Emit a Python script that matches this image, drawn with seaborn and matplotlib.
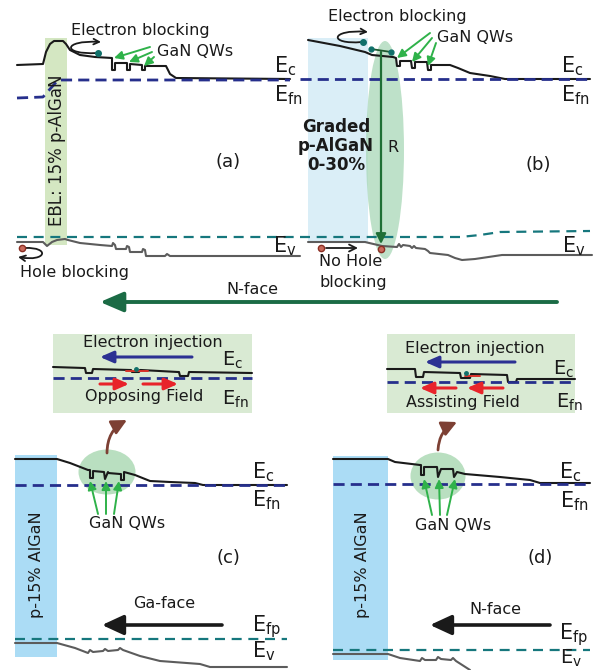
import numpy as np
import pandas as pd
import matplotlib
matplotlib.use("Agg")
import matplotlib.pyplot as plt
import seaborn as sns
from matplotlib.patches import Rectangle, Ellipse, FancyArrowPatch
from matplotlib.path import Path

sns.set_theme(style="white")
plt.rcParams['font.family'] = ['DejaVu Sans']
plt.rcParams['mathtext.fontset'] = 'dejavusans'

# ---------------- data (band-diagram traces, pixel space of the schematic) -------------
ECA_X = [17, 43, 46, 50, 54, 63, 66, 70, 80, 95, 112, 112, 115, 115, 127, 127, 130, 130, 142, 142, 145, 145, 166, 170, 176, 290]
ECA_Y = [65, 64, 52, 44, 41, 41, 44, 50, 55, 57, 58, 70, 70, 63, 63, 70, 70, 64, 65, 70, 70, 66, 66, 74, 78, 79]
EFNA_X = [17, 43, 58, 290]
EFNA_Y = [98, 97, 80, 80]
EFPA_X = [17, 300]
EFPA_Y = [237, 237]
EVA_X = [17, 43, 47, 52, 57, 65, 68, 80, 100, 112, 113, 115, 116, 126, 127, 129, 130, 142, 143, 145, 146, 165, 167, 170, 300]
EVA_Y = [242, 242, 246, 242, 240, 239, 240, 243, 245, 246, 243, 245, 249, 249, 246, 247, 252, 252, 249, 250, 256, 256, 254, 256, 256]

ECB_X = [308, 340, 365, 372, 393, 396, 397, 400, 400, 411, 412, 415, 415, 427, 428, 431, 431, 450, 458, 470, 490, 505, 590]
ECB_Y = [40, 46, 52, 55, 57, 58, 66, 66, 61, 61, 68, 68, 62, 62, 70, 70, 65, 65, 68, 73, 76, 79, 79]
EFNB_X = [300, 590]
EFNB_Y = [79, 79]
EFPB_X = [300, 460, 480, 500, 590]
EFPB_Y = [237, 237, 235, 232, 231]
EVB_X = [308, 365, 382, 397, 399, 401, 403, 410, 412, 414, 416, 425, 428, 430, 448, 455, 462, 475, 502, 592]
EVB_Y = [242, 242, 246, 247, 244, 247, 245, 246, 248, 246, 248, 249, 251, 253, 255, 258, 260, 259, 255, 255]

ECC_X = [15, 57, 70, 88, 90, 90, 93, 93, 104, 105, 105, 108, 108, 120, 121, 121, 124, 124, 135, 150, 170, 195, 203, 287]
ECC_Y = [459, 459, 463, 470, 470, 478, 478, 471, 472, 479, 479, 472, 473, 474, 474, 480, 480, 472, 475, 481, 482, 483, 485, 485]
EFNC_X = [15, 287]
EFNC_Y = [485, 485]
EFPC_X = [15, 287]
EFPC_Y = [639, 639]
EVC_X = [15, 57, 75, 88, 90, 93, 103, 105, 108, 118, 120, 123, 140, 160, 200, 210, 287]
EVC_Y = [643, 643, 648, 653, 650, 652, 651, 649, 651, 650, 648, 650, 656, 661, 664, 667, 667]

ECD_X = [333, 388, 395, 420, 421, 421, 424, 424, 437, 438, 438, 441, 441, 453, 454, 454, 457, 457, 465, 500, 530, 540, 590]
ECD_Y = [459, 459, 462, 465, 465, 475, 475, 467, 467, 477, 477, 469, 469, 469, 477, 477, 472, 472, 474, 477, 480, 483, 483]
EFND_X = [333, 590]
EFND_Y = [484, 484]
EFPD_X = [333, 590]
EFPD_Y = [650, 650]
EVD_X = [333, 388, 400, 420, 422, 425, 436, 438, 441, 451, 453, 456, 470]
EVD_Y = [654, 654, 658, 661, 658, 660, 660, 657, 659, 660, 658, 661, 670]

ECIC_X = [53, 84, 85, 86, 92, 93, 130, 131, 132, 139, 140, 141, 178, 179, 180, 188, 189, 252]
ECIC_Y = [367, 368, 368, 373, 373, 369, 370, 370, 372, 372, 370, 370, 372, 372, 376, 376, 372, 373]
EFNIC_X = [53, 252]
EFNIC_Y = [378, 378]
ECID_X = [387, 415, 416, 423, 424, 460, 461, 470, 471, 507, 508, 516, 517, 575]
ECID_Y = [369, 369, 377, 377, 372, 373, 378, 378, 374, 375, 382, 382, 379, 379]
EFNID_X = [387, 575]
EFNID_Y = [382, 382]

# ---------------- colours ----------------
C_EC = '#1a1a1a'
C_EFN = '#262f8c'
C_EFP = '#16777d'
C_EV = '#5c5c5c'
C_GREEN_ARR = '#2fb24a'
C_RED = '#e8232a'
C_BLUE = '#2c3193'
C_BROWN = '#7d4034'
C_DKGREEN = '#1b6b45'

fig = plt.figure(figsize=(5.95, 6.70), dpi=100)
ax = fig.add_axes([0, 0, 1, 1])


def band(x, y, color, lw, ls='-', z=3):
    df = pd.DataFrame({'x': x, 'y': y})
    sns.lineplot(data=df, x='x', y='y', sort=False, estimator=None, ax=ax,
                 color=color, lw=lw, linestyle=ls, legend=False, zorder=z)


DASH_N = (0, (4.0, 2.2))
DASH_P = (0, (4.5, 3.0))

# ---- background boxes ----
ax.add_patch(Rectangle((45, 38), 22, 207, color='#d4e7c2', zorder=1, lw=0))
ax.add_patch(Rectangle((308, 38), 60, 205, color='#daeef7', zorder=1, lw=0))
ax.add_patch(Ellipse((385, 150), 38, 218, color='#a9d8b7', alpha=0.75, zorder=1.5, lw=0))
ax.add_patch(Rectangle((15, 455), 42, 202, color='#abdcf5', zorder=1, lw=0))
ax.add_patch(Rectangle((333, 456), 55, 204, color='#abdcf5', zorder=1, lw=0))
ax.add_patch(Rectangle((53, 334), 199, 79, color='#d9ead3', zorder=1, lw=0))
ax.add_patch(Rectangle((387, 334), 188, 79, color='#d9ead3', zorder=1, lw=0))
ax.add_patch(Ellipse((107, 472), 57, 45, color='#b9dfc0', zorder=1.5, lw=0))
ax.add_patch(Ellipse((438, 476), 55, 47, color='#b9dfc0', zorder=1.5, lw=0))

# ---- bands ----
for ex, ey in [(ECA_X, ECA_Y), (ECB_X, ECB_Y), (ECC_X, ECC_Y), (ECD_X, ECD_Y),
               (ECIC_X, ECIC_Y), (ECID_X, ECID_Y)]:
    band(ex, ey, C_EC, 1.5)
for ex, ey in [(EFNA_X, EFNA_Y), (EFNB_X, EFNB_Y), (EFNC_X, EFNC_Y), (EFND_X, EFND_Y),
               (EFNIC_X, EFNIC_Y), (EFNID_X, EFNID_Y)]:
    band(ex, ey, C_EFN, 2.0, DASH_N)
for ex, ey in [(EFPA_X, EFPA_Y), (EFPB_X, EFPB_Y), (EFPC_X, EFPC_Y), (EFPD_X, EFPD_Y)]:
    band(ex, ey, C_EFP, 1.6, DASH_P)
for ex, ey in [(EVA_X, EVA_Y), (EVB_X, EVB_Y), (EVC_X, EVC_Y), (EVD_X, EVD_Y)]:
    band(ex, ey, C_EV, 1.5)


# ---- helpers ----
def arrow(p0, p1, color, lw=1.3, hl=5.0, hw=2.6, style='-|>', rad=0.0, z=5):
    st = f'{style},head_length={hl},head_width={hw}'
    a = FancyArrowPatch(p0, p1, arrowstyle=st, mutation_scale=1, color=color, lw=lw,
                        connectionstyle=f'arc3,rad={rad}', shrinkA=0, shrinkB=0, zorder=z)
    ax.add_patch(a)


def curve_arrow(pts, color, lw=1.3, ms=10):
    path = Path(pts, [Path.MOVETO, Path.CURVE4, Path.CURVE4, Path.CURVE4])
    a = FancyArrowPatch(path=path, arrowstyle='->', mutation_scale=ms, color=color, lw=lw,
                        zorder=5)
    ax.add_patch(a)


def elabel(x, y, sub, fs=15):
    ax.text(x, y, r'$\mathrm{E_{%s}}$' % sub, fontsize=fs, color='#1a1a1a', ha='left',
            va='baseline', zorder=6)


FS = 11.5
TXT = '#1a1a1a'

# ---- panel (a) ----
ax.text(140, 31, 'Electron blocking', fontsize=FS, color=TXT, ha='center', va='center')
ax.text(195, 52, 'GaN QWs', fontsize=FS, color=TXT, ha='center', va='center')
curve_arrow([(97, 53), (62, 55), (62, 40), (101, 42)], TXT)
ax.plot([98], [53], 'o', ms=4, color='#10706a', zorder=6)
for t, h in [((150, 47), (114, 58)), ((152, 52), (129, 62)), ((154, 57), (144, 66))]:
    arrow(t, h, C_GREEN_ARR, lw=1.4, hl=5, hw=2.5)
ax.text(57, 150, 'EBL: 15% p-AlGaN', fontsize=12, color=TXT, rotation=90,
        ha='center', va='center', zorder=4)
elabel(274, 72, 'c')
elabel(274, 101, 'fn')
elabel(273, 252, 'v')
ax.text(228, 162, '(a)', fontsize=13, color=TXT, ha='center', va='center')
curve_arrow([(25, 248), (50, 247), (47, 262), (18, 257)], TXT)
ax.plot([22], [248], 'o', ms=4.5, mfc='#c96a5c', mec='#8b2e22', mew=1, zorder=6)
ax.text(75, 272, 'Hole blocking', fontsize=FS, color=TXT, ha='center', va='center')

# big N-face arrow
arrow((557, 302), (100, 302), C_DKGREEN, lw=2.8, hl=14, hw=6)
ax.text(252, 289, 'N-face', fontsize=FS, color=TXT, ha='center', va='center')

# ---- panel (b) ----
ax.text(397, 17, 'Electron blocking', fontsize=FS, color=TXT, ha='center', va='center')
ax.text(475, 38, 'GaN QWs', fontsize=FS, color=TXT, ha='center', va='center')
curve_arrow([(362, 42), (328, 45), (330, 29), (368, 32)], TXT)
ax.plot([363], [42], 'o', ms=4, color='#10706a', zorder=6)
ax.plot([371, 391], [49, 52], color='#1f5a30', lw=1.3, zorder=6)
ax.plot([371, 391], [49, 52], 'o', ms=3.5, color='#10706a', zorder=6)
for t, h in [((430, 33), (397, 58)), ((432, 38), (412, 62)), ((436, 43), (428, 66))]:
    arrow(t, h, C_GREEN_ARR, lw=1.4, hl=5, hw=2.5)
arrow((381, 52), (381, 244), '#1f6f35', lw=1.6, hl=6, hw=3)
ax.text(393, 147, 'R', fontsize=FS, color=TXT, ha='center', va='center')
ax.text(336, 146, 'Graded\np-AlGaN\n0-30%', fontsize=12, fontweight='bold', color=TXT,
        ha='center', va='center', linespacing=1.05, zorder=4)
elabel(561, 72, 'c')
elabel(561, 101, 'fn')
elabel(562, 252, 'v')
ax.text(538, 165, '(b)', fontsize=13, color=TXT, ha='center', va='center')
arrow((326, 248), (358, 248), TXT, lw=1.3, style='->', hl=5, hw=2.5)
ax.plot([321, 381], [248, 249], 'o', ms=4.5, mfc='#c96a5c', mec='#8b2e22', mew=1, zorder=6)
ax.text(351, 262, 'No Hole', fontsize=FS, color=TXT, ha='center', va='center')
ax.text(353, 283, 'blocking', fontsize=FS, color=TXT, ha='center', va='center')

# ---- panel (c) ----
ax.text(153, 343, 'Electron injection', fontsize=FS, color=TXT, ha='center', va='center')
arrow((192, 357), (100, 357), C_BLUE, lw=2.2, hl=8, hw=3.5)
ax.plot([126, 148], [371, 371], color='#d9322a', lw=1.4, zorder=4)
ax.plot([136], [369], 'o', ms=2.5, color='#10706a', zorder=6)
arrow((100, 384), (129, 384), C_RED, lw=2.2, hl=8, hw=3.5)
arrow((143, 384), (178, 384), C_RED, lw=2.2, hl=8, hw=3.5)
ax.text(144, 397, 'Opposing Field', fontsize=FS, color=TXT, ha='center', va='center')
elabel(222, 366, 'c', fs=14)
elabel(222, 405, 'fn', fs=14)
arrow((107, 453), (127, 420), C_BROWN, lw=2.0, hl=9, hw=4.5, rad=-0.3)
for t, h in [((98, 514), (90, 481)), ((106, 514), (106, 481)), ((114, 514), (119, 481))]:
    arrow(t, h, C_GREEN_ARR, lw=1.4, hl=5, hw=2.5)
ax.text(127, 523, 'GaN QWs', fontsize=FS, color=TXT, ha='center', va='center')
ax.text(37, 565, 'p-15% AlGaN', fontsize=FS, color=TXT, rotation=90, ha='center',
        va='center', zorder=4)
elabel(252, 478, 'c')
elabel(252, 506, 'fn')
elabel(252, 631, 'fp')
elabel(252, 657, 'v')
ax.text(228, 558, '(c)', fontsize=13, color=TXT, ha='center', va='center')
ax.text(164, 604, 'Ga-face', fontsize=FS, color=TXT, ha='center', va='center')
arrow((222, 625), (102, 625), TXT, lw=2.6, hl=13, hw=6)

# ---- panel (d) ----
ax.text(475, 348, 'Electron injection', fontsize=FS, color=TXT, ha='center', va='center')
arrow((515, 362), (425, 362), C_BLUE, lw=2.2, hl=8, hw=3.5)
ax.plot([465, 480], [376, 376], color='#d9322a', lw=1.4, zorder=4)
ax.plot([466], [373], 'o', ms=2.5, color='#10706a', zorder=6)
arrow((456, 388), (420, 388), C_RED, lw=2.2, hl=8, hw=3.5)
arrow((503, 388), (467, 388), C_RED, lw=2.2, hl=8, hw=3.5)
ax.text(463, 403, 'Assisting Field', fontsize=FS, color=TXT, ha='center', va='center')
elabel(553, 375, 'c', fs=14)
elabel(556, 408, 'fn', fs=14)
arrow((438, 450), (457, 422), C_BROWN, lw=2.0, hl=9, hw=4.5, rad=-0.3)
for t, h in [((432, 515), (424, 479)), ((440, 515), (439, 479)), ((447, 515), (455, 479))]:
    arrow(t, h, C_GREEN_ARR, lw=1.4, hl=5, hw=2.5)
ax.text(453, 525, 'GaN QWs', fontsize=FS, color=TXT, ha='center', va='center')
ax.text(362, 565, 'p-15% AlGaN', fontsize=FS, color=TXT, rotation=90, ha='center',
        va='center', zorder=4)
elabel(559, 478, 'c')
elabel(560, 507, 'fn')
elabel(559, 639, 'fp')
elabel(560, 664, 'v', fs=14)
ax.text(540, 558, '(d)', fontsize=13, color=TXT, ha='center', va='center')
ax.text(495, 610, 'N-face', fontsize=FS, color=TXT, ha='center', va='center')
arrow((550, 625), (430, 625), TXT, lw=2.6, hl=13, hw=6)

ax.set_xlim(0, 595)
ax.set_ylim(670, 0)
ax.axis('off')
fig.savefig('out.png', dpi=100)
